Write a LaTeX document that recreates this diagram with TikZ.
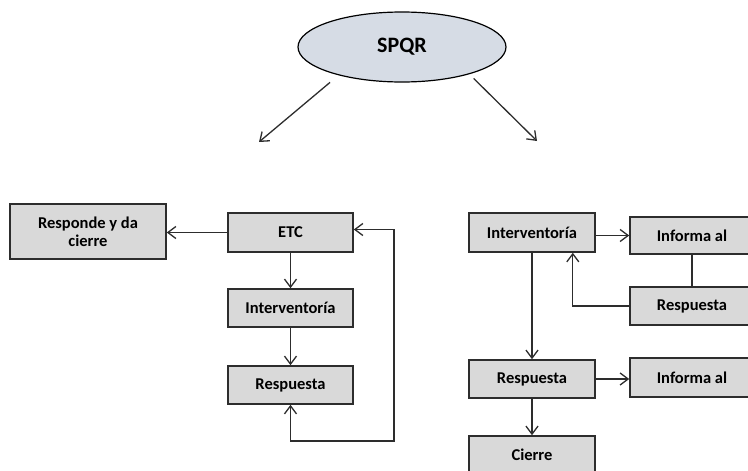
\documentclass[tikz,border=0pt]{standalone}
\usepackage{fontspec}
\setmainfont{Carlito}
\usepackage{tikz}
\usetikzlibrary{shapes,arrows,positioning,calc,arrows.meta}
\definecolor{boxgray}{RGB}{217,217,217}
\definecolor{ovalblue}{RGB}{214,220,229}
\definecolor{edgegray}{RGB}{45,45,45}
\tikzstyle{barb} = [-{Straight Barb[length=8pt,width=12pt]}]
\tikzstyle{arrow} = [barb, line width=1.3pt, draw=edgegray]
\tikzstyle{link} = [line width=1.3pt, draw=edgegray]
\tikzstyle{stepbox} = [draw=edgegray, line width=1.6pt, fill=boxgray, minimum width=125pt, minimum height=38pt, inner sep=2pt, font=\bfseries\fontsize{16.5}{18}\selectfont, align=center]

\begin{document}
\begin{tikzpicture}[x=1pt, y=-1pt]
    \useasboundingbox (0,0) rectangle (748,471);
    % Root
    \node[ellipse, draw=black, line width=1.2pt, fill=ovalblue, minimum width=208pt, minimum height=70pt, inner sep=0pt, font=\bfseries\fontsize{22}{24}\selectfont] (spqr) at (402,47) {SPQR};
    \coordinate (lend) at (259,142);
    \coordinate (rend) at (537,141);
    \draw[arrow, shorten <=11pt] (spqr.204) -- (lend);
    \draw[arrow, shorten <=6pt] (spqr.338) -- (rend);
    % Left branch
    \node[stepbox, minimum width=156pt, minimum height=55pt] (cierreL) at (88,231.5) {Responde y da\\cierre};
    \node[stepbox, minimum height=39pt] (etc) at (290.5,232.5) {ETC};
    \node[stepbox] (intL) at (290.5,308) {Interventoría};
    \node[stepbox] (respL) at (290.5,385) {Respuesta};
    \coordinate (loop) at (394,441);
    \draw[arrow] (etc.west) -- (etc.west -| cierreL.east);
    \draw[arrow] (etc) -- (intL);
    \draw[arrow] (intL) -- (respL);
    \draw[arrow, {Straight Barb[length=8pt,width=12pt]}-{Straight Barb[length=8pt,width=12pt]}] (respL.south) |- (loop) |- ([yshift=3pt]etc.east);
    % Right branch
    \node[stepbox, minimum width=126pt, minimum height=39pt] (intR) at (532,232.5) {Interventoría};
    \node[stepbox, minimum width=124pt, minimum height=37pt] (infoA) at (692,235.5) {Informa al};
    \node[stepbox, minimum width=124pt] (respA) at (692,306) {Respuesta};
    \node[stepbox, minimum width=126pt] (respR) at (532,379) {Respuesta};
    \node[stepbox, minimum width=124pt, minimum height=39pt] (infoB) at (692,377.5) {Informa al};
    \node[stepbox, minimum width=126pt] (cierreR) at (532,455) {Cierre};
    \draw[arrow] (infoA.west -| intR.east) -- (infoA.west);
    \draw[link] (infoA) -- (respA);
    \draw[arrow] (respA.west) -| ([xshift=-23pt]intR.south east);
    \draw[arrow] (intR) -- (respR);
    \draw[arrow] (respR.east) -- (respR.east -| infoB.west);
    \draw[arrow] (respR) -- (cierreR);
\end{tikzpicture}
\end{document}
